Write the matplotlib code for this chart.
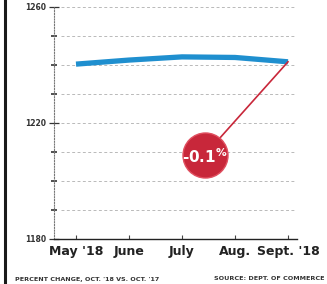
import matplotlib.pyplot as plt

plt.rcParams["mathtext.fontset"] = "dejavusans"

months = ["May '18", "June", "July", "Aug.", "Sept. '18"]
values = [1240.3, 1241.7, 1242.8, 1242.6, 1241.1]
y_labels = [1180, 1220, 1260]
change_label = "-0.1"
footer_left = "PERCENT CHANGE, OCT. '18 VS. OCT. '17"
footer_right = "SOURCE: DEPT. OF COMMERCE"

blue = "#1f8fcf"
red = "#c8273a"

fig = plt.figure(figsize=(3.27, 2.84), dpi=100)
ax = fig.add_axes([54 / 327, 1 - 239 / 284, (297 - 54) / 327, (239 - 7) / 284])

x = list(range(len(months)))
ax.set_xlim(-0.415, len(months) - 1 + 0.17)
ax.set_ylim(1180, 1260)

# dashed gridlines every 10
for g in range(1190, 1261, 10):
    ax.axhline(g, xmin=0.03, xmax=0.99, color="#666666", lw=0.7,
               ls=(0, (3, 2.5)), alpha=0.45, zorder=1)

ax.plot(x, values, color=blue, lw=3.8, solid_capstyle="butt", zorder=3)

# callout bubble
bx, by = 2.43, 1209
ax.plot([x[-1], bx], [values[-1], by], color=red, lw=1.2, zorder=4)
ax.scatter([bx], [by], s=1050, color=red, edgecolor="#e05060", lw=1, zorder=5)
ax.text(bx, by - 0.5, change_label + r"$^{\mathbf{\%}}$", color="white",
        fontsize=11, fontweight="bold", ha="center", va="center", zorder=6)

for s in ["top", "right"]:
    ax.spines[s].set_visible(False)
ax.spines["left"].set_linestyle((0, (1, 1.5)))
ax.spines["left"].set_color("#777777")
ax.spines["left"].set_linewidth(0.8)
ax.spines["bottom"].set_color("#222222")
ax.spines["bottom"].set_linewidth(1.0)

ax.set_xticks(x)
ax.set_xticklabels(months, fontsize=9, fontweight="bold", color="#222222")
ax.tick_params(axis="x", direction="in", length=3, pad=4, color="#444444")
ax.set_yticks(y_labels)
ax.set_yticklabels([str(v) for v in y_labels], fontsize=5.5, fontweight="bold",
                   color="#333333")
ax.set_yticks(range(1190, 1260, 10), minor=True)
ax.tick_params(axis="y", which="major", direction="inout", length=7, pad=2,
               color="#333333", width=0.9)
ax.tick_params(axis="y", which="minor", direction="inout", length=4,
               color="#333333", width=1.2)

# left black rule
fig.add_artist(plt.Line2D([5 / 327, 5 / 327], [0, 1], color="#1a1a1a", lw=2.2,
                          transform=fig.transFigure))

fig.text(15 / 327, 1 - 279 / 284, footer_left, fontsize=4.6, fontweight="bold",
         color="#333333", va="center", ha="left")
fig.text(325 / 327, 1 - 279 / 284, footer_right, fontsize=4.6, fontweight="bold",
         color="#333333", va="center", ha="right")

fig.savefig("out.png", dpi=100)
